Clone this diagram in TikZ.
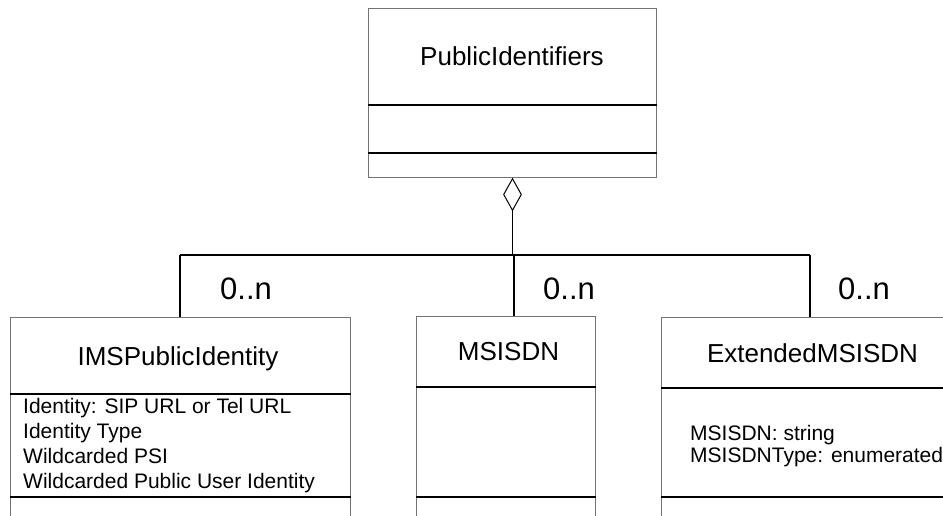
\documentclass[tikz,border=0pt]{standalone}
\usepackage{fontspec}
\setmainfont{Liberation Sans}
\usetikzlibrary{shapes.geometric}
\tikzset{
  classbox/.style={draw=black!55, line width=1pt, rectangle, inner sep=0pt, anchor=north west},
  sepline/.style={draw=black, line width=1.4pt},
  titletext/.style={font=\fontsize{26}{30}\selectfont, inner sep=0pt, anchor=base},
  attrtext/.style={font=\fontsize{21}{24}\selectfont, inner sep=0pt, anchor=base west},
  multtext/.style={font=\fontsize{31}{36}\selectfont, inner sep=0pt, anchor=base west},
  conn/.style={draw=black, line width=1.8pt},
  stem/.style={draw=black, line width=1.2pt},
  aggr/.style={diamond, draw=black, line width=1pt, fill=white, inner sep=0pt, minimum width=18pt, minimum height=32pt}
}
\begin{document}
\begin{tikzpicture}[x=1pt,y=-1pt]
\useasboundingbox (0,0) rectangle (943,515);
\clip (0,0) rectangle (943,515);
\fill[white] (0,0) rectangle (943,515);

% PublicIdentifiers
\node[classbox, minimum width=288pt, minimum height=169pt] (pi) at (368,8) {};
\draw[sepline] (pi.west |- 0,105) -- (pi.east |- 0,105);
\draw[sepline, line width=1.1pt] (pi.west |- 0,153) -- (pi.east |- 0,153);
\node[titletext] (pit) at (512,65) {PublicIdentifiers};

% aggregation diamond
\node[aggr, anchor=north] (dia) at (pi.south) {};

% IMSPublicIdentity
\node[classbox, minimum width=340pt, minimum height=213pt] (ims) at (10,317) {};
\draw[sepline] (ims.west |- 0,394) -- (ims.east |- 0,394);
\draw[sepline] (ims.west |- 0,497) -- (ims.east |- 0,497);
\node[titletext] (imst) at (178,365) {IMSPublicIdentity};
\node[attrtext] (imsa1) at (23,413) {Identity: SIP URL or Tel URL};
\node[attrtext] (imsa2) at (23,438) {Identity Type};
\node[attrtext] (imsa3) at (23,463) {Wildcarded PSI};
\node[attrtext] (imsa4) at (23,488) {Wildcarded Public User Identity};

% MSISDN
\node[classbox, minimum width=179pt, minimum height=214pt] (ms) at (416,316) {};
\draw[sepline] (ms.west |- 0,387) -- (ms.east |- 0,387);
\draw[sepline] (ms.west |- 0,497) -- (ms.east |- 0,497);
\node[titletext] (mst) at (508.5,360) {MSISDN};

% ExtendedMSISDN
\node[classbox, minimum width=304pt, minimum height=213pt] (ext) at (661,317) {};
\draw[sepline] (ext.west |- 0,388) -- (ext.east |- 0,388);
\draw[sepline] (ext.west |- 0,497) -- (ext.east |- 0,497);
\node[titletext] (extt) at (812.5,362) {ExtendedMSISDN};
\node[attrtext] (exta1) at (690,440) {MSISDN: string};
\node[attrtext] (exta2) at (690,462) {MSISDNType: enumerated};

% connectors
\coordinate (busL) at (180,255);
\coordinate (busM) at (514,255);
\coordinate (busR) at (810,255);
\draw[stem] (dia.south) -- (dia.south |- busL);
\draw[conn] (busL) -- (busR);
\draw[conn] (busL) -- (busL |- ims.north);
\draw[conn] (busM) -- (busM |- ms.north);
\draw[conn] (busR) -- (busR |- ext.north);

% multiplicities
\node[multtext] (m1) at (220,299) {0..n};
\node[multtext] (m2) at (543,299) {0..n};
\node[multtext] (m3) at (838,299) {0..n};
\end{tikzpicture}
\end{document}
